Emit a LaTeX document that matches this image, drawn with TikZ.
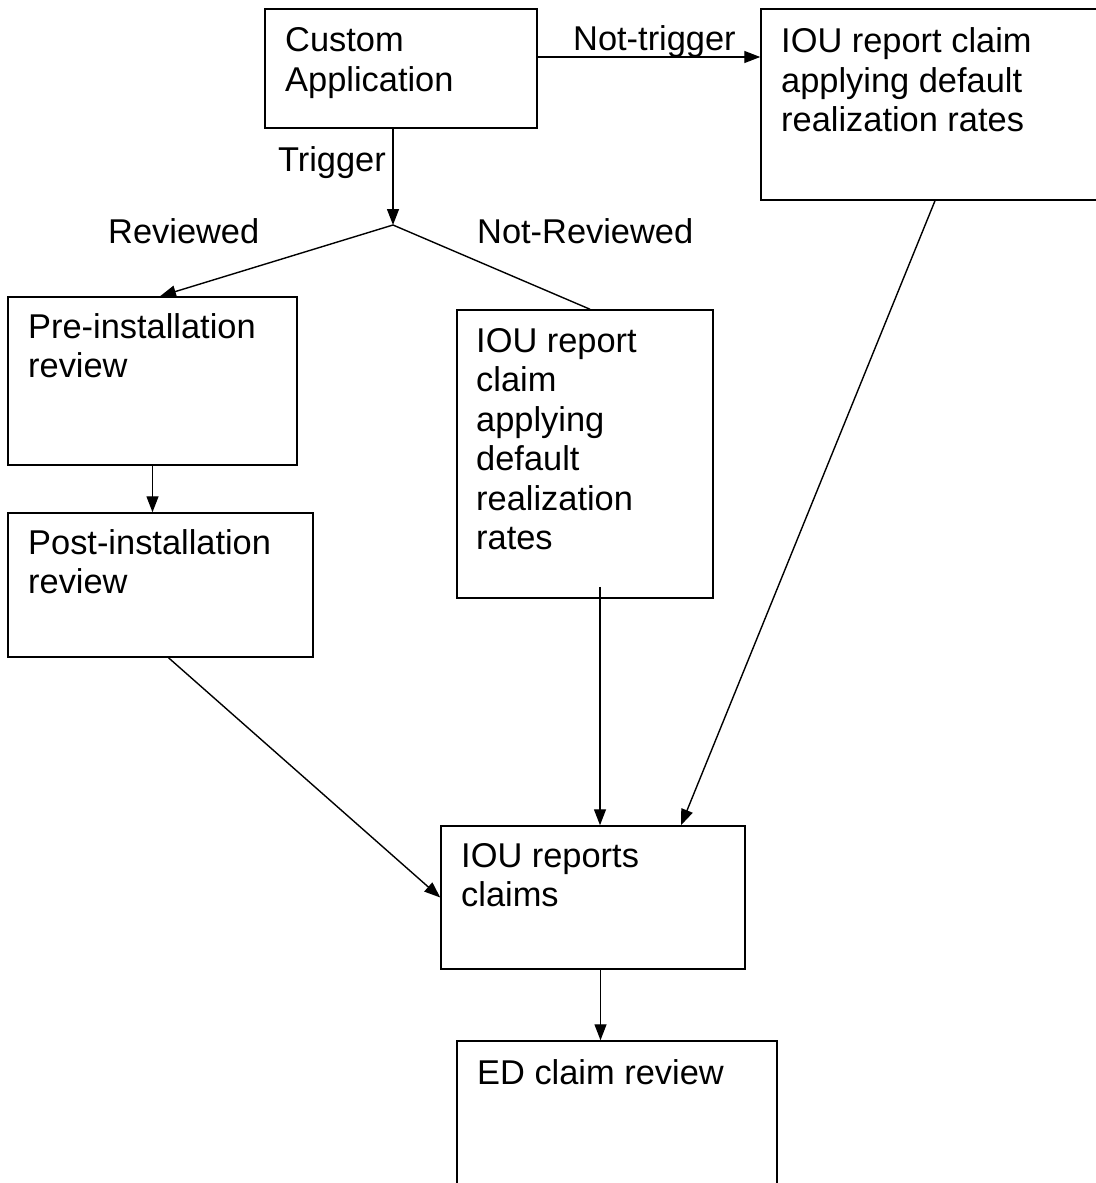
\documentclass[tikz,border=0pt]{standalone}
\usepackage{fontspec}
\setmainfont{Liberation Sans}
\usetikzlibrary{arrows.meta}
\newcommand{\fsz}{\fontsize{34.4}{39.5}\selectfont}
\begin{document}
\begin{tikzpicture}[x=1pt,y=-1pt,
  box/.style={draw, line width=1.5pt, inner sep=0pt, rectangle},
  txt/.style={font=\fsz, inner sep=0pt, anchor=north west, align=left},
  lbl/.style={font=\fsz, inner sep=0pt, anchor=base west},
  arr/.style={line width=1.4pt, -{Triangle[length=16pt,width=12pt]}},
  ln/.style={line width=1.4pt}]
\useasboundingbox (0,0) rectangle (1095,1183);
% boxes
\node[box, minimum width=272, minimum height=119] (ca) at (401,68.5) {};
\node[box, minimum width=339, minimum height=191] (tr) at (930.5,104.5) {};
\node[box, minimum width=289, minimum height=168] (pre) at (152.5,381) {};
\node[box, minimum width=256, minimum height=288] (mid) at (585,454) {};
\node[box, minimum width=305, minimum height=144] (post) at (160.5,585) {};
\node[box, minimum width=304, minimum height=143] (iou) at (593,897.5) {};
\node[box, minimum width=320, minimum height=159] (ed) at (617,1120.5) {};
% box texts
\node[txt] (tca) at (285,27.5) {Custom\\Application};
\node[txt] (ttr) at (781,27.5) {IOU report claim\\applying default\\realization rates};
\node[txt] (tpre) at (28,313) {Pre-installation\\review};
\node[txt] (tmid) at (476,328) {IOU report\\claim\\applying\\default\\realization\\rates};
\node[txt] (tpost) at (28,529) {Post-installation\\review};
\node[txt] (tiou) at (461,843) {IOU reports\\claims};
\node[lbl] (ted) at (477,1084) {ED claim review};
% edge labels
\node[lbl] (lnt) at (573,50) {Not-trigger};
\node[lbl, anchor=base east] (ltr) at (386,171) {Trigger};
\node[lbl] (lrev) at (108,243) {Reviewed};
\node[lbl] (lnrev) at (477,243) {Not-Reviewed};
% junction
\coordinate (j) at (393,225);
% connectors
\draw[arr] ([yshift=11.5pt]ca.east) -- ([yshift=11.5pt]ca.east -| tr.west);
\draw[arr] (ca.south -| j) -- (j);
\draw[arr] (j) -- ([xshift=7.5pt]pre.north);
\draw[ln] (j) -- ([xshift=5pt]mid.north);
\draw[arr] (pre.south) -- (pre.south |- post.north);
\draw[arr] ([xshift=8pt]post.south) -- (iou.west);
\draw[arr] ([xshift=15pt,yshift=12pt]mid.south) -- ([xshift=7pt]iou.north);
\draw[arr] ([xshift=4.5pt]tr.south) -- ([xshift=88pt]iou.north);
\draw[arr] ([xshift=7.5pt]iou.south) -- ([xshift=7.5pt]iou.south |- ed.north);
\end{tikzpicture}
\end{document}
